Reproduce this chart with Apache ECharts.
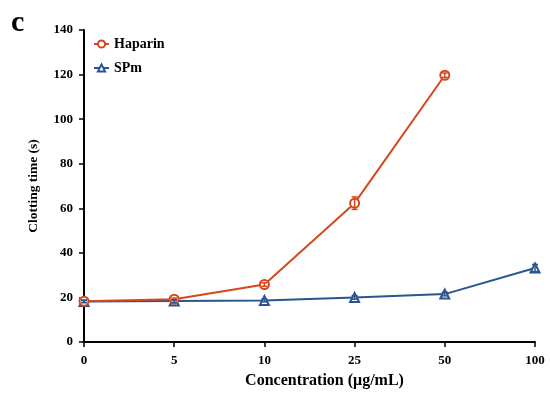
<!DOCTYPE html>
<html><head><meta charset="utf-8">
<script src="https://cdn.jsdelivr.net/npm/echarts@6/dist/echarts.min.js"></script>
<style>html,body{margin:0;padding:0;background:#fff}#c{width:550px;height:397px}</style>
</head><body><div id="c"></div>
<script>
const categories = ['0','5','10','25','50','100'];
const haparin = [18.3, 19.2, 25.8, 62.3, 119.7, null];
const haparinErr = [0.6, 0.5, 0.8, 2.8, 1.0, null];
const spm = [18.2, 18.4, 18.6, 20.0, 21.5, 33.2];
const spmErr = [0.5, 0.6, 0.6, 0.8, 0.8, 1.6];
const yTicks = [0, 20, 40, 60, 80, 100, 120, 140];

const cHap = '#D5471C';
const cSpm = '#2B5590';
const font = '"Liberation Serif", "Times New Roman", serif';

function errData(vals, errs) {
  const out = [];
  vals.forEach((v, i) => { if (v != null) out.push([i, v - errs[i], v + errs[i]]); });
  return out;
}
function errSeries(vals, errs, color) {
  return {
    type: 'custom', z: 5, silent: true,
    data: errData(vals, errs),
    renderItem: function (params, api) {
      const x = api.value(0);
      const lo = api.coord([x, api.value(1)]);
      const hi = api.coord([x, api.value(2)]);
      const w = 3;
      const st = { stroke: color, lineWidth: 1.5 };
      return { type: 'group', children: [
        { type: 'line', shape: { x1: lo[0], y1: lo[1], x2: hi[0], y2: hi[1] }, style: st },
        { type: 'line', shape: { x1: lo[0] - w, y1: lo[1], x2: lo[0] + w, y2: lo[1] }, style: st },
        { type: 'line', shape: { x1: hi[0] - w, y1: hi[1], x2: hi[0] + w, y2: hi[1] }, style: st }
      ]};
    }
  };
}

const chart = echarts.init(document.getElementById('c'), null, { renderer: 'canvas' });
chart.setOption({
  animation: false,
  backgroundColor: '#fff',
  textStyle: { fontFamily: font },
  graphic: [{ type: 'text', left: 11, top: 8, style: { text: 'c', font: 'bold 30px ' + font, fill: '#000' } }],
  legend: {
    left: 88, top: 32, orient: 'vertical', itemGap: 10, itemWidth: 15, itemHeight: 9,
    data: ['Haparin', 'SPm'],
    textStyle: { fontFamily: font, fontWeight: 'bold', fontSize: 14, color: '#000' }
  },
  grid: { left: 84, right: 15, top: 30, bottom: 55, containLabel: false },
  xAxis: {
    type: 'category', data: categories, boundaryGap: false,
    name: 'Concentration (μg/mL)', nameLocation: 'middle', nameGap: 31,
    nameTextStyle: { fontFamily: font, fontWeight: 'bold', fontSize: 16, color: '#000', padding: [0, 0, 0, 30] },
    axisLine: { lineStyle: { color: '#000', width: 2 } },
    axisTick: { show: true, length: 5, lineStyle: { color: '#000', width: 1.5 }, alignWithLabel: true },
    axisLabel: { margin: 12, fontFamily: font, fontWeight: 'bold', fontSize: 13, color: '#000' },
    splitLine: { show: false }
  },
  yAxis: {
    type: 'value', min: 0, max: 140, interval: 20,
    name: 'Clotting time (s)', nameLocation: 'middle', nameGap: 43,
    nameTextStyle: { fontFamily: font, fontWeight: 'bold', fontSize: 13.5, color: '#000' },
    axisLine: { show: true, lineStyle: { color: '#000', width: 2 } },
    axisTick: { show: true, length: 5, lineStyle: { color: '#000', width: 1.5 } },
    axisLabel: { margin: 11, fontFamily: font, fontWeight: 'bold', fontSize: 13, color: '#000',
      formatter: v => yTicks.includes(v) ? String(v) : '' },
    splitLine: { show: false }
  },
  series: [
    { name: 'Haparin', type: 'line', data: haparin, symbol: 'emptyCircle', symbolSize: 9,
      lineStyle: { color: cHap, width: 2 }, itemStyle: { color: cHap, borderWidth: 1.5 }, z: 3 },
    { name: 'SPm', type: 'line', data: spm, symbol: 'emptyTriangle', symbolSize: 9,
      lineStyle: { color: cSpm, width: 2 }, itemStyle: { color: cSpm, borderWidth: 1.5 }, z: 2 },
    errSeries(haparin, haparinErr, cHap),
    errSeries(spm, spmErr, cSpm)
  ]
});
</script></body></html>
